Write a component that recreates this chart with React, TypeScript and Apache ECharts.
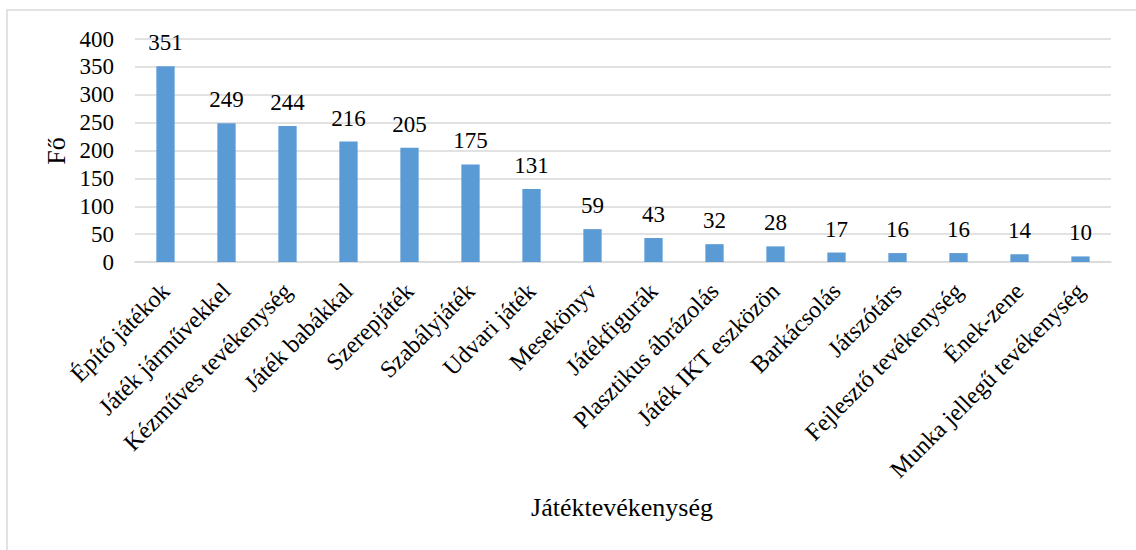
import React, { useEffect, useRef } from "react";
import * as echarts from "echarts";

// Játéktevékenységek gyakorisága (fő)
const categories: string[] = [
  "Építő játékok",
  "Játék járművekkel",
  "Kézműves tevékenység",
  "Játék babákkal",
  "Szerepjáték",
  "Szabályjáték",
  "Udvari játék",
  "Mesekönyv",
  "Játékfigurák",
  "Plasztikus ábrázolás",
  "Játék IKT eszközön",
  "Barkácsolás",
  "Játszótárs",
  "Fejlesztő tevékenység",
  "Ének-zene",
  "Munka jellegű tevékenység",
];

const values: number[] = [351, 249, 244, 216, 205, 175, 131, 59, 43, 32, 28, 17, 16, 16, 14, 10];

const yTicks: number[] = [0, 50, 100, 150, 200, 250, 300, 350, 400];

const yTitle = "Fő";
const xTitle = "Játéktevékenység";

const FONT = "Liberation Serif";
const GRID_COLOR = "#d9d9d9";
const BAR_COLOR = "#5b9bd5";

export default function App() {
  const ref = useRef<HTMLDivElement>(null);

  useEffect(() => {
    if (!ref.current) return;
    const chart = echarts.init(ref.current, undefined, { renderer: "svg" });
    chart.setOption({
      animation: false,
      backgroundColor: "#ffffff",
      textStyle: { fontFamily: FONT },
      grid: { left: 135, right: 25, top: 39, bottom: 288, containLabel: false },
      xAxis: {
        type: "category",
        data: categories,
        axisLine: { show: true, lineStyle: { color: GRID_COLOR, width: 1.5 } },
        axisTick: { show: false },
        axisLabel: {
          rotate: 45,
          interval: 0,
          margin: 25,
          color: "#000000",
          fontFamily: FONT,
          fontSize: 24,
        },
      },
      yAxis: {
        type: "value",
        min: yTicks[0],
        max: yTicks[yTicks.length - 1],
        interval: yTicks[1] - yTicks[0],
        axisLine: { show: false },
        axisTick: { show: false },
        splitLine: { lineStyle: { color: GRID_COLOR, width: 1.5 } },
        axisLabel: {
          margin: 21,
          color: "#000000",
          fontFamily: FONT,
          fontSize: 23,
        },
      },
      series: [
        {
          type: "bar",
          data: values,
          barWidth: "30%",
          itemStyle: { color: BAR_COLOR },
          label: {
            show: true,
            position: "top",
            distance: 12,
            color: "#000000",
            fontFamily: FONT,
            fontSize: 23,
          },
        },
      ],
      graphic: [
        {
          type: "rect",
          shape: { x: 7, y: 10, width: 1200, height: 600 },
          style: { fill: "none", stroke: GRID_COLOR, lineWidth: 1.5 },
          silent: true,
          z: -1,
        },
        {
          type: "text",
          x: 56,
          y: 151,
          rotation: Math.PI / 2,
          style: {
            text: yTitle,
            font: `26px ${FONT}`,
            fill: "#000000",
            align: "center",
            verticalAlign: "middle",
          },
        },
        {
          type: "text",
          x: 622,
          y: 507,
          style: {
            text: xTitle,
            font: `26px ${FONT}`,
            fill: "#000000",
            align: "center",
            verticalAlign: "middle",
          },
        },
      ],
    });
    return () => chart.dispose();
  }, []);

  return (
    <div
      ref={ref}
      style={{ position: "absolute", left: 0, top: 0, width: 1136, height: 550 }}
    />
  );
}
